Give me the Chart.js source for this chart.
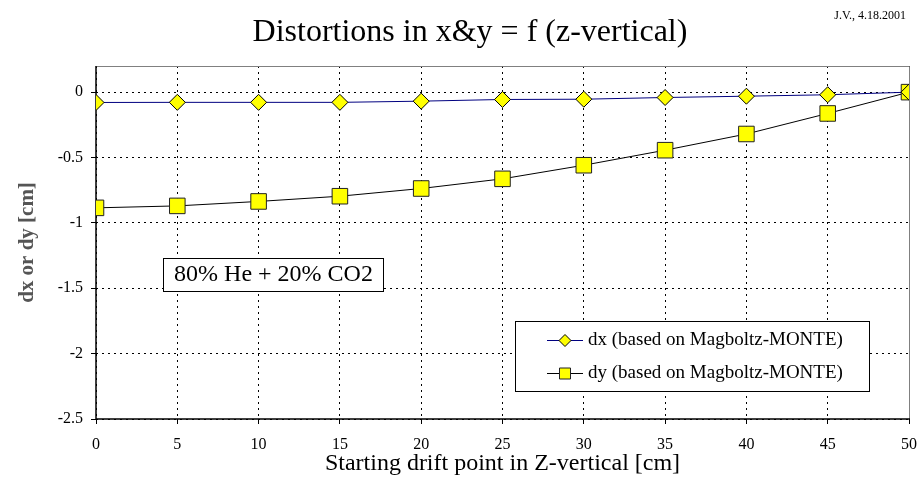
<!DOCTYPE html>
<html>
<head>
<meta charset="utf-8">
<script src="https://cdn.jsdelivr.net/npm/chart.js@4"></script>
<style>
html,body{margin:0;padding:0;background:#fff;}
#wrap{width:922px;height:478px;}
</style>
</head>
<body>
<div id="wrap"><canvas id="c" width="922" height="478"></canvas></div>
<script>
const zPositions = [0, 5, 10, 15, 20, 25, 30, 35, 40, 45, 50];
const dxValues = [-0.079, -0.078, -0.078, -0.078, -0.069, -0.056, -0.054, -0.041, -0.031, -0.020, 0];
const dyValues = [-0.885, -0.870, -0.836, -0.796, -0.737, -0.663, -0.559, -0.444, -0.320, -0.163, 0];
const yTickValues = [-2.5, -2, -1.5, -1, -0.5, 0];
const titleText = 'Distortions in x&y = f (z-vertical)';
const dateText = 'J.V., 4.18.2001';
const noteText = '80% He + 20% CO2';
const seriesLabels = ['dx (based on Magboltz-MONTE)', 'dy (based on Magboltz-MONTE)'];

const SERIF = '"Liberation Serif", "Times New Roman", serif';

const framePlugin = {
  id: 'frame',
  beforeDatasetsDraw(chart) {
    const ctx = chart.ctx;
    const a = chart.chartArea;
    ctx.save();
    ctx.setLineDash([]);
    // top and right frame (grey)
    ctx.strokeStyle = '#808080';
    ctx.lineWidth = 1;
    ctx.beginPath();
    ctx.moveTo(a.left, a.top + 0.5);
    ctx.lineTo(a.right + 0.5, a.top + 0.5);
    ctx.lineTo(a.right + 0.5, a.bottom);
    ctx.stroke();
    // left and bottom axis lines (solid black)
    ctx.strokeStyle = '#000';
    ctx.lineWidth = 1.5;
    ctx.beginPath();
    ctx.moveTo(a.left, a.top);
    ctx.lineTo(a.left, a.bottom);
    ctx.lineTo(a.right + 1, a.bottom);
    ctx.stroke();
    ctx.restore();
  }
};

const decorPlugin = {
  id: 'decor',
  afterDraw(chart) {
    const ctx = chart.ctx;
    ctx.save();
    // title
    ctx.fillStyle = '#000';
    ctx.textAlign = 'center';
    ctx.textBaseline = 'alphabetic';
    ctx.font = '32px ' + SERIF;
    ctx.fillText(titleText, 470, 41);
    ctx.font = '12px ' + SERIF;
    ctx.textAlign = 'right';
    ctx.fillText(dateText, 906, 19);
    // note box
    ctx.textBaseline = 'middle';
    ctx.fillStyle = '#fff';
    ctx.fillRect(163.5, 258.5, 220, 33);
    ctx.strokeStyle = '#000';
    ctx.lineWidth = 1;
    ctx.strokeRect(163.5, 258.5, 220, 33);
    ctx.fillStyle = '#000';
    ctx.textAlign = 'center';
    ctx.font = '24px ' + SERIF;
    ctx.fillText(noteText, 273.5, 275);
    // legend
    ctx.fillStyle = '#fff';
    ctx.fillRect(515.5, 321.5, 354, 70);
    ctx.strokeStyle = '#000';
    ctx.strokeRect(515.5, 321.5, 354, 70);
    const rows = [340, 373];
    chart.data.datasets.forEach((ds, i) => {
      const y = rows[i] + 0.5;
      ctx.strokeStyle = ds.borderColor;
      ctx.lineWidth = 1;
      ctx.beginPath();
      ctx.moveTo(547, y);
      ctx.lineTo(583, y);
      ctx.stroke();
      ctx.fillStyle = ds.pointBackgroundColor;
      ctx.strokeStyle = ds.pointBorderColor;
      ctx.beginPath();
      if (ds.pointStyle === 'rectRot') {
        const r = 6;
        ctx.moveTo(565 - r, y); ctx.lineTo(565, y - r);
        ctx.lineTo(565 + r, y); ctx.lineTo(565, y + r);
        ctx.closePath();
      } else {
        const s = 5.5;
        ctx.rect(565 - s, y - s, 2 * s, 2 * s);
      }
      ctx.fill();
      ctx.stroke();
      ctx.fillStyle = '#000';
      ctx.font = '19px ' + SERIF;
      ctx.textAlign = 'left';
      ctx.fillText(ds.label, 588, rows[i]);
    });
    ctx.restore();
  }
};

new Chart(document.getElementById('c'), {
  type: 'line',
  data: {
    datasets: [
      {
        label: seriesLabels[0],
        data: zPositions.map((z, i) => ({x: z, y: dxValues[i]})),
        borderColor: '#000080',
        borderWidth: 1,
        pointStyle: 'rectRot',
        pointRadius: 8,
        pointBackgroundColor: '#ffff00',
        pointBorderColor: '#000',
        pointBorderWidth: 1,
        tension: 0
      },
      {
        label: seriesLabels[1],
        data: zPositions.map((z, i) => ({x: z, y: dyValues[i]})),
        borderColor: '#000',
        borderWidth: 1,
        pointStyle: 'rect',
        pointRadius: 11,
        pointBackgroundColor: '#ffff00',
        pointBorderColor: '#222',
        pointBorderWidth: 1,
        tension: 0
      }
    ]
  },
  options: {
    responsive: false,
    animation: false,
    devicePixelRatio: 1,
    layout: {padding: {top: 66, right: 13, left: 0, bottom: 0}},
    plugins: {
      legend: {display: false},
      title: {display: false},
      tooltip: {enabled: false}
    },
    scales: {
      x: {
        type: 'linear',
        min: 0,
        max: 50,
        afterFit: s => { s.height = 59; s.paddingLeft = 0; s.paddingRight = 0; },
        afterBuildTicks: s => { s.ticks = zPositions.map(v => ({value: v})); },
        ticks: {
          color: '#000',
          font: {family: SERIF, size: 16},
          padding: 11,
          maxRotation: 0,
          callback: v => String(v)
        },
        grid: {
          color: '#000',
          lineWidth: 1,
          tickLength: 5,
          tickColor: '#000',
          tickBorderDash: []
        },
        border: {display: false, dash: [2, 4]},
        title: {
          display: true,
          text: 'Starting drift point in Z-vertical [cm]',
          color: '#000',
          font: {family: SERIF, size: 24},
          padding: {top: 0, bottom: 0}
        }
      },
      y: {
        type: 'linear',
        min: -2.5,
        max: 0.2,
        afterFit: s => { s.width = 96; s.paddingTop = 0; s.paddingBottom = 0; },
        afterBuildTicks: s => { s.ticks = yTickValues.map(v => ({value: v})); },
        ticks: {
          color: '#000',
          font: {family: SERIF, size: 16},
          padding: 8,
          callback: v => String(v)
        },
        grid: {
          color: '#000',
          lineWidth: 1,
          tickLength: 5,
          tickColor: '#000'
        },
        border: {display: false, dash: [2, 4]},
        title: {
          display: true,
          text: 'dx or dy [cm]',
          color: '#555',
          font: {family: SERIF, size: 21, weight: 'bold'},
          padding: {top: 15, bottom: 0}
        }
      }
    }
  },
  plugins: [framePlugin, decorPlugin]
});
</script>
</body>
</html>
